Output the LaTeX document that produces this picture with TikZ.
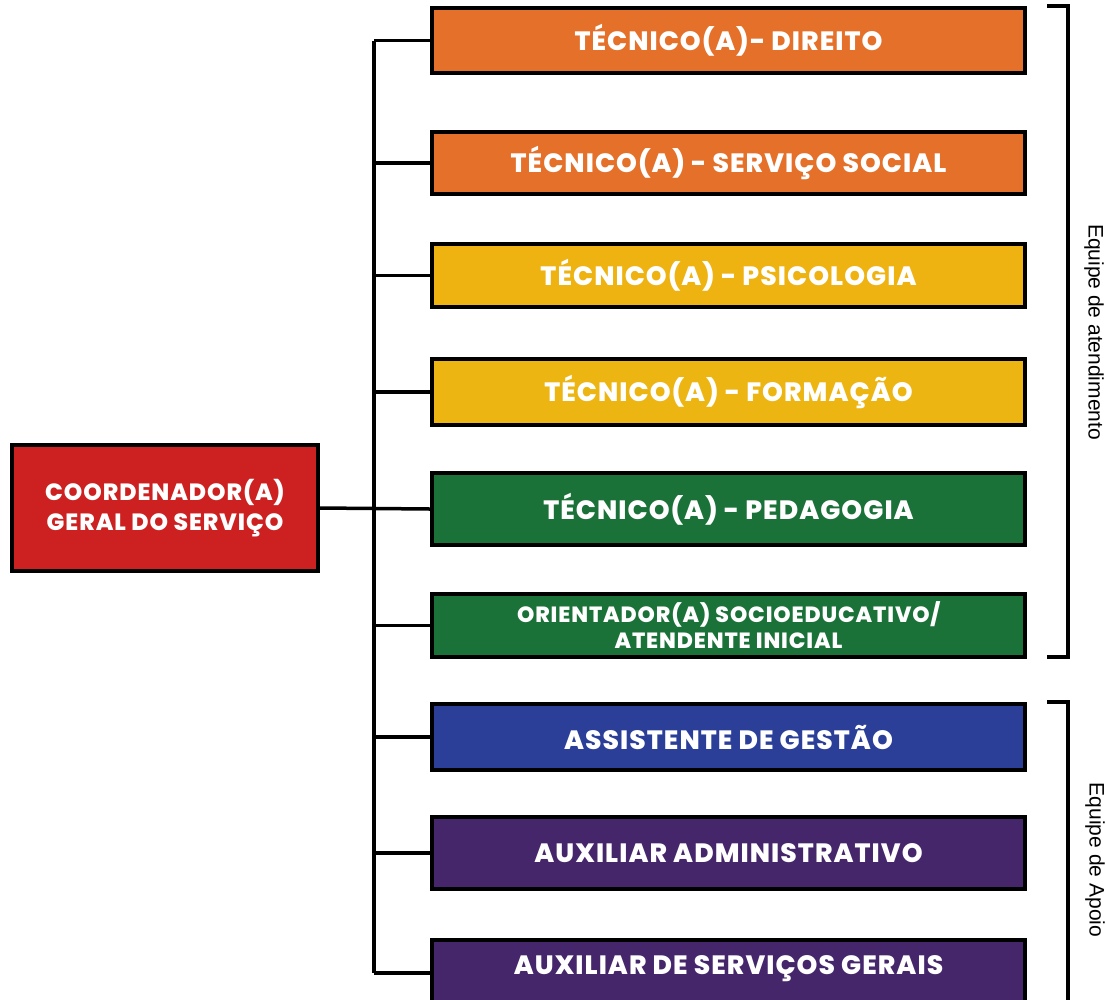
\documentclass[tikz,border=0pt]{standalone}
\usepackage{fontspec}
\setmainfont{Poppins}
\newfontfamily\grossa{Poppins ExtraBold}[LetterSpace=4]
\newfontfamily\rotulo{Liberation Sans}
\definecolor{laranja}{HTML}{E4702A}
\definecolor{amarelo}{HTML}{EDB512}
\definecolor{verde}{HTML}{1B7239}
\definecolor{azul}{HTML}{2B3F99}
\definecolor{roxo}{HTML}{45266B}
\definecolor{vermelho}{HTML}{CD2121}
\begin{document}
\begin{tikzpicture}[x=1pt, y=-1pt, line join=miter,
		caixa/.style={draw=black, line width=4pt, text=white, align=center, inner sep=0pt, minimum width=593pt, font=\fontsize{26.5}{30}\selectfont\grossa},
		linha/.style={line width=3.5pt},
		equipe/.style={rotate=-90, font=\fontsize{21}{24}\selectfont\rotulo}]
	\def\xc{728.5} % centro das caixas
	\useasboundingbox (0,0) rectangle (1105,999);
	\clip (0,0) rectangle (1105,999);
	\node[caixa, fill=vermelho, minimum width=306pt, minimum height=126pt, font=\fontsize{23.5}{30}\selectfont\grossa] (coord) at (165,508) {COORDENADOR(A)\\GERAL DO SERVIÇO};
	\node[caixa, fill=laranja, minimum height=65pt] (direito) at (\xc,40.5) {TÉCNICO(A)- DIREITO};
	\node[caixa, fill=laranja, minimum height=62pt] (social) at (\xc,163) {TÉCNICO(A) - SERVIÇO SOCIAL};
	\node[caixa, fill=amarelo!95!orange, minimum height=63pt] (psico) at (\xc,275.5) {TÉCNICO(A) - PSICOLOGIA};
	\node[caixa, fill=amarelo, minimum height=66pt] (formacao) at (\xc,392) {TÉCNICO(A) - FORMAÇÃO};
	\node[caixa, fill=verde, minimum height=72pt] (pedago) at (\xc,509) {TÉCNICO(A) - PEDAGOGIA};
	\node[caixa, fill=verde, minimum height=63pt, font=\fontsize{22}{26}\selectfont\grossa] (orient) at (\xc,625.5) {ORIENTADOR(A) SOCIOEDUCATIVO/\\ATENDENTE INICIAL};
	\node[caixa, fill=azul, minimum height=66pt] (assist) at (\xc,737) {ASSISTENTE DE GESTÃO};
	\node[caixa, fill=roxo, minimum height=72pt] (auxadm) at (\xc,853) {AUXILIAR ADMINISTRATIVO};
	\node[caixa, fill=roxo, minimum height=66pt, text depth=16pt] (auxger) at (\xc,973) {AUXILIAR DE SERVIÇOS GERAIS};
	% tronco vertical
	\coordinate (tronco) at (374,0);
	\draw[linha] (tronco |- direito.west) -- (tronco |- auxger.west);
	\draw[linha] (coord.east) -- (pedago.west);
	\foreach \c in {direito,social,psico,formacao,orient,assist,auxadm,auxger}
		\draw[linha] (tronco |- \c.west) -- (\c.west);
	% chaves
	\draw[linha] (1047,6) -| (1068,657) -- (1047,657);
	\draw[linha] (1047,702) -| (1068,1010);
	\node[equipe] (atend) at (1094,332) {Equipe de atendimento};
	\node[equipe] (apoio) at (1095,860) {Equipe de Apoio};
\end{tikzpicture}
\end{document}
